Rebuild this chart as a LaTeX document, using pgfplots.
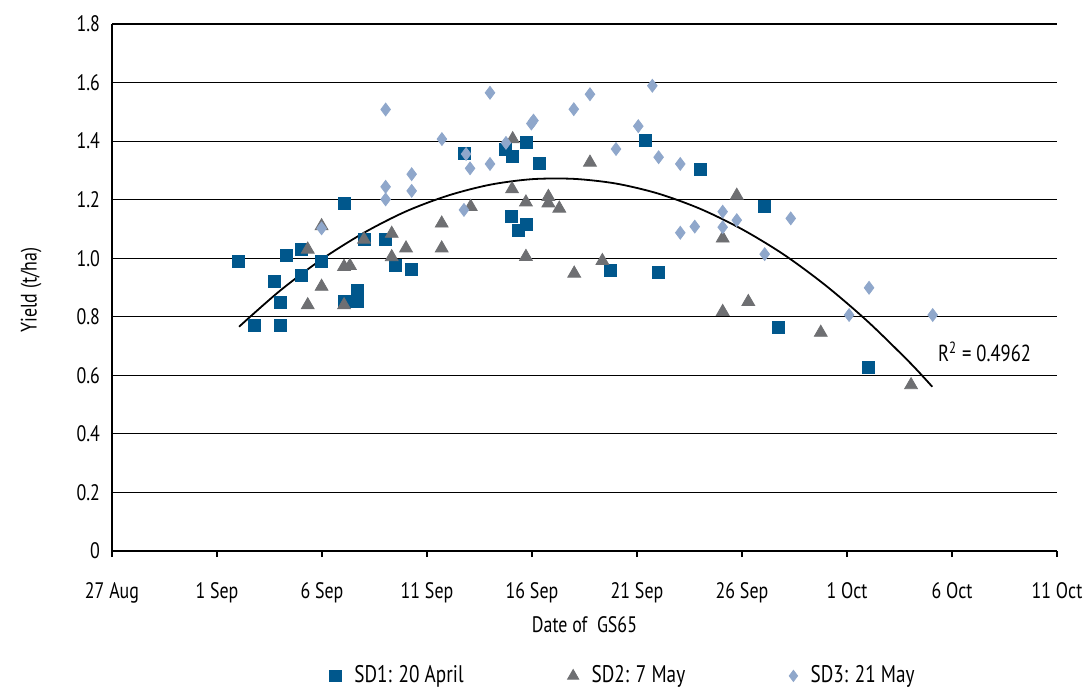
\documentclass[border=0pt]{standalone}
\usepackage{fontspec}
\setmainfont[FakeStretch=0.8]{PT Sans}
\usepackage{pgfplots}
\pgfplotsset{compat=1.18}

\definecolor{sdone}{RGB}{0,87,140}
\definecolor{sdtwo}{RGB}{110,111,114}
\definecolor{sdthree}{RGB}{143,167,203}

\newcommand{\chartfont}{\fontsize{11.2}{13}\selectfont}

% single mark in the legend, with its own size
\pgfplotsset{dotlegend/.style={legend image code/.code={%
  \draw[##1, mark size=#1] plot coordinates {(0pt,0pt)};}}}

% x = days after 27 Aug
\pgfplotstableread{
x y
6.00 0.990
6.76 0.770
7.71 0.920
8.00 0.848
8.00 0.770
8.29 1.009
9.00 1.030
9.03 0.943
9.98 0.990
11.05 1.186
11.05 0.854
11.70 0.889
11.70 0.854
12.00 1.065
13.03 1.065
13.50 0.977
14.27 0.963
16.76 1.358
18.73 1.370
19.05 1.349
19.75 1.395
20.33 1.323
19.03 1.142
19.37 1.094
19.75 1.114
23.75 0.957
25.38 1.401
26.03 0.951
28.03 1.302
31.08 1.178
31.75 0.763
36.03 0.626
}\sdone

\pgfplotstableread{
x y
9.32 1.030
9.32 0.840
9.98 1.110
9.98 0.903
11.05 0.971
11.33 0.974
11.05 0.840
12.00 1.064
13.32 1.084
13.32 1.004
14.00 1.034
15.70 1.119
15.70 1.034
17.08 1.176
19.08 1.407
19.05 1.236
19.71 1.191
19.71 1.005
20.78 1.210
20.78 1.188
21.30 1.170
22.76 1.327
22.01 0.948
23.35 0.991
29.75 1.214
29.08 1.068
29.08 0.817
30.30 0.851
33.75 0.746
38.05 0.567
}\sdtwo

\pgfplotstableread{
x y
9.98 1.102
13.03 1.508
13.03 1.244
13.03 1.201
14.27 1.287
14.27 1.230
15.71 1.407
16.76 1.165
16.86 1.356
17.05 1.307
18.00 1.565
18.00 1.322
18.76 1.394
19.97 1.460
20.07 1.470
21.99 1.509
22.76 1.560
24.00 1.373
25.06 1.451
25.73 1.589
26.03 1.345
27.06 1.322
27.06 1.087
27.75 1.108
29.08 1.159
29.08 1.106
29.75 1.130
31.08 1.014
32.32 1.136
35.10 0.806
36.05 0.899
39.08 0.806
}\sdthree

\begin{document}
\begin{tikzpicture}
\begin{axis}[
  scale only axis,
  width=472.5pt, height=263.5pt,
  xmin=0, xmax=45, ymin=0, ymax=1.8,
  axis x line*=bottom, axis y line*=left,
  axis line style={black, line width=0.8pt},
  xtick={0,5,...,45},
  xticklabels={27 Aug,1 Sep,6 Sep,11 Sep,16 Sep,21 Sep,26 Sep,1 Oct,6 Oct,11 Oct},
  ytick={0,0.2,0.4,0.6,0.8,1.0,1.2,1.4,1.6,1.8},
  yticklabels={0,0.2,0.4,0.6,0.8,1.0,1.2,1.4,1.6,1.8},
  ymajorgrids,
  grid style={black, line width=0.6pt},
  tick align=outside,
  major tick length=3pt,
  x tick style={black, line width=0.6pt},
  y tick style={draw=none},
  tick label style={font=\chartfont},
  xticklabel style={anchor=base, yshift=-20.8pt},
  yticklabel style={anchor=east, xshift=0.5pt},
  xlabel={Date of\ \ GS65},
  ylabel={Yield (t/ha)},
  label style={font=\chartfont},
  xlabel style={at={(axis description cs:0.5,-0.139)}, anchor=center},
  ylabel style={at={(axis description cs:-0.0857,0.495)}, anchor=center},
  legend columns=3,
  legend style={draw=none, font=\fontsize{12}{14}\selectfont,
    at={(axis description cs:0.542,-0.237)}, anchor=center,
    /tikz/every odd column/.append style={column sep=4.5pt},
    /tikz/every even column/.append style={column sep=50pt}},
  clip=false,
]
\addplot[only marks, mark=square*, mark size=3pt, draw=sdone, fill=sdone,
  dotlegend=2.9pt]
  table[x=x, y=y] {\sdone};
\addlegendentry{SD1: 20 April}
\addplot[only marks, mark=triangle*, mark size=3.7pt, draw=sdtwo, fill=sdtwo,
  dotlegend=3.2pt]
  table[x=x, y=y] {\sdtwo};
\addlegendentry{SD2: 7 May}
\addplot[only marks, mark=diamond*, mark size=3.2pt, draw=sdthree, fill=sdthree,
  dotlegend=2.8pt]
  table[x=x, y=y] {\sdthree};
\addlegendentry{SD3: 21 May}
% quadratic trend line through all sowing dates
\addplot[black, line width=0.9pt, smooth, no markers, forget plot] coordinates {
  (6.05,0.766) (8,0.889) (10,0.997) (12,1.087) (14,1.160) (16,1.214)
  (18,1.251) (20,1.270) (22,1.271) (24,1.255) (26,1.221) (28,1.169)
  (30,1.099) (32,1.012) (34,0.906) (36,0.783) (38,0.643) (39.06,0.561)};
\node[anchor=west, font=\fontsize{11.6}{13}\selectfont] at (axis cs:39.0,0.68)
  {R\textsuperscript{2} = 0.4962};
\end{axis}
\pgfresetboundingbox
\path (current axis.south west) ++(-56pt,-69pt)
  rectangle ([shift={(15pt,12pt)}]current axis.north east);
\end{tikzpicture}
\end{document}
